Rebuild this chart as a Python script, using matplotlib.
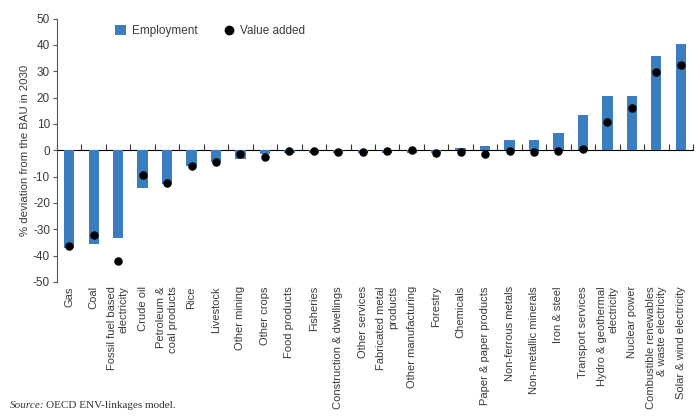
import numpy as np
import matplotlib
matplotlib.use("Agg")
import matplotlib.pyplot as plt
from matplotlib.lines import Line2D
from matplotlib.patches import Patch

# ------------------------
# Data
# ------------------------
sectors = [
    "Gas", "Coal", "Fossil fuel based\nelectricity", "Crude oil",
    "Petroleum &\ncoal products", "Rice", "Livestock", "Other mining",
    "Other crops", "Food products", "Fisheries", "Construction & dwellings",
    "Other services", "Fabricated metal\nproducts", "Other manufacturing",
    "Forestry", "Chemicals", "Paper & paper products", "Non-ferrous metals",
    "Non-metallic minerals", "Iron & steel", "Transport services",
    "Hydro & geothermal\nelectricity", "Nuclear power",
    "Combustible renewables\n& waste electricity", "Solar & wind electricity",
]
employment = [
    -37.2, -35.7, -33.3, -14.2, -12.7, -5.9, -4.4, -3.2, -1.5, -0.9,
    -0.9, -1.1, -0.9, -1.0, -1.0, -1.0, 0.8, 1.6, 3.9, 4.1,
    6.5, 13.3, 20.5, 20.8, 35.8, 40.4,
]
value_added = [
    -36.3, -32.3, -42.0, -9.2, -12.3, -5.8, -4.3, -1.4, -2.4, -0.4,
    -0.4, -0.5, -0.5, -0.4, 0.0, -1.1, -0.6, -1.4, -0.4, -0.6,
    -0.3, 0.5, 10.6, 16.2, 29.9, 32.3,
]
y_ticks = [-50, -40, -30, -20, -10, 0, 10, 20, 30, 40, 50]

BAR_COLOR = "#3b7ebf"
TEXT_COLOR = "#3a3a3a"

plt.rcParams["font.family"] = ["Liberation Sans", "DejaVu Sans"]
plt.rcParams["axes.unicode_minus"] = False

fig = plt.figure(figsize=(7, 4.2), dpi=100)
ax = fig.add_axes([0.0814, 0.3286, 0.9086, 0.627])

x = np.arange(len(sectors))
ax.bar(x, employment, width=0.42, color=BAR_COLOR, zorder=2)
ax.scatter(x, value_added, s=26, color="black", zorder=3)

ax.set_xlim(-0.5, len(sectors) - 0.5)
ax.set_ylim(-50, 50)
ax.set_yticks(y_ticks)
ax.tick_params(axis="y", labelsize=8.5, labelcolor=TEXT_COLOR, color="#555555",
               length=3, width=0.8, pad=2)
ax.set_ylabel("% deviation from the BAU in 2030", fontsize=8.2,
              color=TEXT_COLOR, labelpad=2)

# category labels at the bottom, vertical
ax.set_xticks(x)
ax.set_xticklabels(sectors, rotation=90, fontsize=8, color=TEXT_COLOR,
                   ha="center", va="top", ma="right")
ax.tick_params(axis="x", length=0, pad=3)

for side in ["top", "right", "bottom"]:
    ax.spines[side].set_visible(False)
ax.spines["left"].set_color("#555555")
ax.spines["left"].set_linewidth(0.8)

# zero line with ticks between the categories
zero_axis = ax.secondary_xaxis(0.5)
zero_axis.set_xticks(np.arange(len(sectors) + 1) - 0.5)
zero_axis.set_xticklabels([])
zero_axis.tick_params(direction="out", length=4, width=0.8, color="#333333")
zero_axis.spines["bottom"].set_color("black")
zero_axis.spines["bottom"].set_linewidth(0.9)

handles = [
    Patch(facecolor=BAR_COLOR, edgecolor="none", label="Employment"),
    Line2D([], [], marker="o", color="black", linestyle="none",
           markersize=6, label="Value added"),
]
ax.legend(handles=handles, loc="upper left", bbox_to_anchor=(0.075, 1.015),
          ncol=2, frameon=False, fontsize=8.5, handlelength=0.9,
          handleheight=0.9, handletextpad=0.5, columnspacing=2.2,
          labelcolor=TEXT_COLOR)

fig.text(0.014, 0.028, "Source:", fontsize=8, style="italic",
         family=["Liberation Serif", "DejaVu Serif"], color="#333333")
fig.text(0.066, 0.028, "OECD ENV-linkages model.", fontsize=8,
         family=["Liberation Serif", "DejaVu Serif"], color="#333333")

fig.savefig("out.png", dpi=100)
